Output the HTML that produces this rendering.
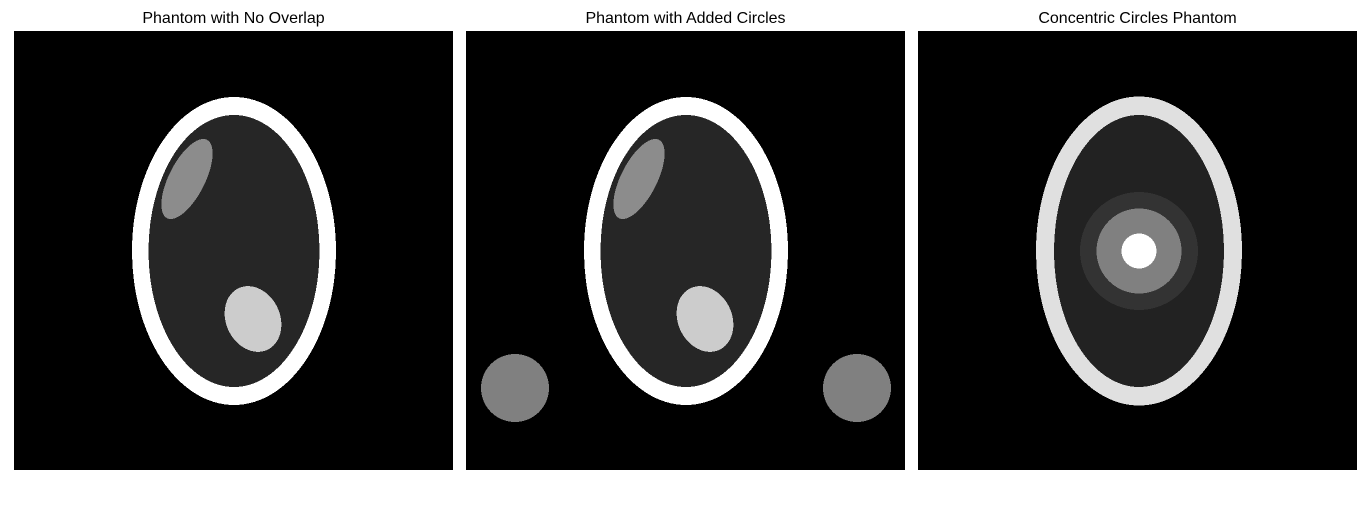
<!DOCTYPE html>
<html><head><meta charset="utf-8"><style>
body{margin:0;background:#fff;width:1370px;height:500px;overflow:hidden;font-family:"Liberation Sans","DejaVu Sans",sans-serif}
</style></head><body>
<svg id="chart" width="1370" height="500" style="shape-rendering:crispEdges">
</svg>
<script>
const panelTitles = ["Phantom with No Overlap","Phantom with Added Circles","Concentric Circles Phantom"];
const panelLeft = [14,466,918];
// ellipses: [cx, cy, rx, ry, angle, gray]  (cx relative to panel left)
const p1Shapes = [[220,251,102,154,0,255],[220,251,85.5,136,0,38],[173,179,18,44,27,140],[239,319,27,34,-25,204]];
const p2Extra = [[49,388,34,34,0,128],[391,388,34,34,0,128]];
const p3Shapes = [[221,251,103,154.5,0,224],[221,251,85,136,0,34],[221,251,59,59,0,51],[221,251,42.5,42.5,0,128],[221,251,17.5,17.5,0,255]];
const svg=document.getElementById('chart');
const NS="http://www.w3.org/2000/svg";
const sets=[p1Shapes,p1Shapes.concat(p2Extra),p3Shapes];
sets.forEach((shapes,i)=>{
  const x0=panelLeft[i];
  const g=document.createElementNS(NS,'g');
  
  
  const r=document.createElementNS(NS,'rect');
  r.setAttribute('x',x0);r.setAttribute('y',31);r.setAttribute('width',439);r.setAttribute('height',439);r.setAttribute('fill','#000');
  
  
  g.appendChild(r);
  shapes.forEach(s=>{
    const e=document.createElementNS(NS,'ellipse');
    e.setAttribute('cx',x0+s[0]);e.setAttribute('cy',s[1]);e.setAttribute('rx',s[2]);e.setAttribute('ry',s[3]);
    e.setAttribute('transform','rotate('+s[4]+' '+(x0+s[0])+' '+s[1]+')');
    e.setAttribute('fill','rgb('+s[5]+','+s[5]+','+s[5]+')');
    
    
    g.appendChild(e);
  });
  const t=document.createElementNS(NS,'text');
  t.setAttribute('x',x0+219.5);t.setAttribute('y',23);t.setAttribute('text-anchor','middle');
  t.setAttribute('font-size','16');t.setAttribute('fill','#000');
  
  
  t.textContent=panelTitles[i];
  g.appendChild(t);
  svg.appendChild(g);
});
</script>
</body></html>
